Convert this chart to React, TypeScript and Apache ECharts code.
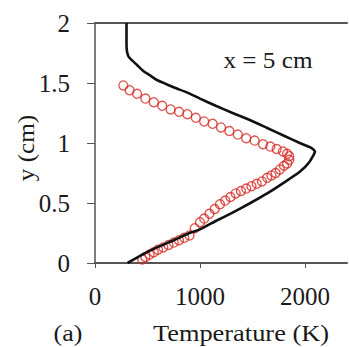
import React, { useEffect, useRef } from "react";
import * as echarts from "echarts";

// Simulated temperature profile (solid black line): temperature (K) vs height y (cm)
const simTemp = [310, 450, 590, 750, 900, 1000, 1150, 1310, 1480, 1640, 1800, 1950, 2040, 2095, 2060, 1950, 1800, 1640, 1480, 1310, 1150, 1000, 880, 760, 680, 590, 530, 460, 400, 350, 320, 305, 300, 300];
const simY = [0.0, 0.07, 0.13, 0.19, 0.25, 0.28, 0.35, 0.42, 0.5, 0.58, 0.67, 0.76, 0.84, 0.93, 0.96, 1.0, 1.06, 1.125, 1.19, 1.25, 1.31, 1.37, 1.42, 1.46, 1.49, 1.525, 1.56, 1.6, 1.65, 1.69, 1.72, 1.76, 1.82, 2.0];

// Measured temperature profile (open red circles)
const measTemp = [270, 330, 400, 480, 560, 640, 720, 800, 880, 960, 1040, 1120, 1200, 1280, 1360, 1440, 1520, 1600, 1670, 1730, 1790, 1830, 1850, 1850, 1830, 1800, 1760, 1720, 1680, 1640, 1590, 1540, 1490, 1440, 1390, 1340, 1290, 1240, 1190, 1140, 1090, 1040, 1000, 950, 900, 850, 800, 750, 700, 650, 600, 560, 520, 480, 450];
const measY = [1.48, 1.44, 1.41, 1.37, 1.34, 1.31, 1.28, 1.26, 1.24, 1.21, 1.18, 1.16, 1.13, 1.1, 1.07, 1.04, 1.02, 0.99, 0.97, 0.95, 0.93, 0.91, 0.89, 0.86, 0.83, 0.81, 0.78, 0.75, 0.73, 0.71, 0.68, 0.66, 0.64, 0.62, 0.6, 0.58, 0.55, 0.52, 0.49, 0.45, 0.41, 0.37, 0.34, 0.29, 0.23, 0.21, 0.19, 0.17, 0.15, 0.13, 0.11, 0.09, 0.07, 0.05, 0.03];

const xTicks = [0, 1000, 2000];
const yTicks = [0, 0.5, 1, 1.5, 2];

const FONT = "'Liberation Serif', 'Times New Roman', serif";
const TEXT = "#1a1a1a";
const AXIS = "#555555";

export default function App() {
  const ref = useRef<HTMLDivElement>(null);

  useEffect(() => {
    if (!ref.current) return;
    const chart = echarts.init(ref.current, undefined, { renderer: "svg" });
    const simData = simTemp.map((t, i) => [t, simY[i]]);
    const measData = measTemp.map((t, i) => [t, measY[i]]);

    chart.setOption({
      animation: false,
      backgroundColor: "#ffffff",
      grid: { left: 95, top: 23, right: 2, bottom: 84 },
      xAxis: [
        {
          type: "value",
          min: 0,
          max: 2400,
          interval: 1000,
          axisLine: { show: true, lineStyle: { color: AXIS, width: 2 } },
          axisTick: { show: true, inside: false, length: 5, lineStyle: { color: AXIS, width: 1 } },
          axisLabel: {
            margin: 21,
            color: TEXT,
            fontFamily: FONT,
            fontSize: 25,
            showMaxLabel: false,
            formatter: (v: number) => (xTicks.includes(v) ? String(v) : ""),
          },
          splitLine: { show: false },
        },
        {
          type: "value",
          position: "top",
          min: 0,
          max: 2400,
          axisLine: { show: true, lineStyle: { color: AXIS, width: 2 } },
          axisTick: { show: false },
          axisLabel: { show: false },
          splitLine: { show: false },
        },
      ],
      yAxis: {
        type: "value",
        min: 0,
        max: 2,
        interval: 0.5,
        axisLine: { show: true, lineStyle: { color: AXIS, width: 1.5 } },
        axisTick: { show: true, inside: false, length: 8, lineStyle: { color: AXIS, width: 1 } },
        axisLabel: {
          margin: 25,
          color: TEXT,
          fontFamily: FONT,
          fontSize: 25,
          formatter: (v: number) => (yTicks.includes(v) ? String(v) : ""),
        },
        splitLine: { show: false },
      },
      series: [
        {
          type: "scatter",
          data: measData,
          symbol: "circle",
          symbolSize: 9,
          itemStyle: { color: "transparent", borderColor: "#d42a25", borderWidth: 1.4 },
          z: 2,
        },
        {
          type: "line",
          data: simData,
          showSymbol: false,
          smooth: 0.15,
          lineStyle: { color: "#111111", width: 2.6 },
          z: 3,
        },
      ],
      graphic: [
        {
          type: "text",
          x: 268,
          y: 60,
          scaleX: 1.05,
          style: { text: "x = 5 cm", font: `24px ${FONT}`, fill: TEXT, align: "center", verticalAlign: "middle" },
        },
        {
          type: "text",
          x: 241,
          y: 333,
          scaleX: 1.1,
          style: { text: "Temperature (K)", font: `24px ${FONT}`, fill: TEXT, align: "center", verticalAlign: "middle" },
        },
        {
          type: "text",
          x: 68,
          y: 333,
          scaleX: 1.08,
          style: { text: "(a)", font: `24px ${FONT}`, fill: TEXT, align: "center", verticalAlign: "middle" },
        },
        {
          type: "text",
          x: 26,
          y: 148,
          rotation: Math.PI / 2,
          scaleX: 1.05,
          style: { text: "y (cm)", font: `24px ${FONT}`, fill: TEXT, align: "center", verticalAlign: "middle" },
        },
      ],
    });

    return () => chart.dispose();
  }, []);

  return <div ref={ref} style={{ width: 349, height: 347, position: "absolute", left: 0, top: 0 }} />;
}
